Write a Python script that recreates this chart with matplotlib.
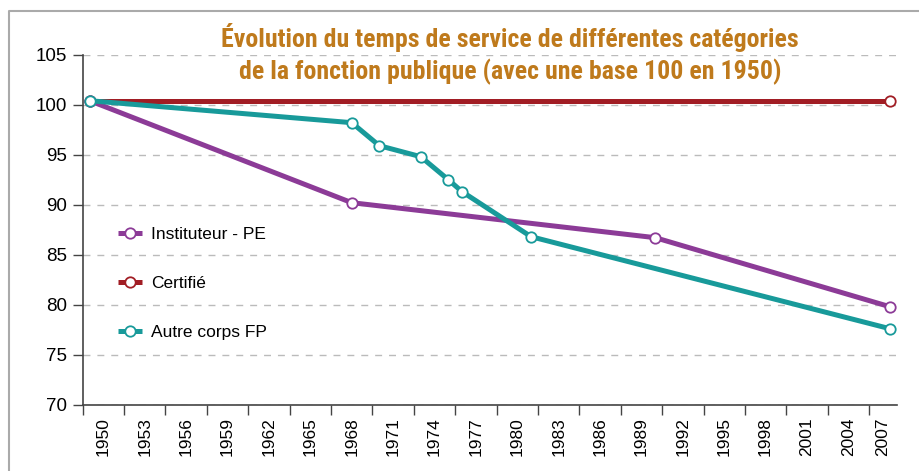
import numpy as np
import matplotlib
matplotlib.use('Agg')
import matplotlib.pyplot as plt
from matplotlib.lines import Line2D
from matplotlib import font_manager

plt.rcParams['font.family'] = ['Liberation Sans', 'DejaVu Sans']

# donnees (annees = position de categorie)
years_inst = [1950, 1969, 1991, 2008]
vals_inst = [100.4, 90.2, 86.7, 79.8]

years_cert = [1950, 2008]
vals_cert = [100.4, 100.4]

years_autre = [1950, 1969, 1971, 1974, 1976, 1977, 1982, 2008]
vals_autre = [100.4, 98.2, 95.9, 94.8, 92.5, 91.3, 86.8, 77.6]

tick_years = list(range(1950, 2008, 3))
tick_labels = [str(y) for y in tick_years]
y_ticks = [70, 75, 80, 85, 90, 95, 100, 105]

title = "Évolution du temps de service de différentes catégories\nde la fonction publique (avec une base 100 en 1950)"

c_inst = '#8C3B97'
c_cert = '#A11D24'
c_autre = '#189A9A'

# police etroite pour le titre si disponible
installed = {f.name for f in font_manager.fontManager.ttflist}
title_fam = 'Liberation Sans'
title_size = 13.2
title_ls = 1.75
for cand, size, ls in [('Liberation Sans Narrow', 18.6, 1.28), ('Roboto Condensed', 18.6, 1.28),
                       ('Open Sans Condensed', 18.6, 1.28), ('DejaVu Sans Condensed', 14.5, 1.5)]:
    if cand in installed:
        title_fam, title_size, title_ls = cand, size, ls
        break

fig = plt.figure(figsize=(9.19, 4.71), dpi=100)
ax = fig.add_axes([0.090, 0.1408, 0.8857, 0.7431])

def draw(x, y, col, lab):
    ax.plot(x, y, color=col, lw=3.6, marker='o', ms=7.5, mfc='white',
            mec=col, mew=1.3, label=lab, solid_capstyle='butt', zorder=3)

draw(years_cert, vals_cert, c_cert, 'Certifié')
draw(years_inst, vals_inst, c_inst, 'Instituteur - PE')
draw(years_autre, vals_autre, c_autre, 'Autre corps FP')

ax.set_xlim(1949.5, 2008.5)
ax.set_ylim(70, 105)

# ticks entre categories, libelles centres dans chaque groupe de 3
ax.set_xticks([y - 0.5 for y in tick_years])
ax.set_xticklabels([])
centers = [y + 1 for y in tick_years]
centers[-1] = 2007.5
ax.set_xticks(centers, minor=True)
ax.set_xticklabels(tick_labels, minor=True, rotation=90, fontsize=12.5)
ax.tick_params(axis='x', which='major', length=7, width=1, color='#444444')
ax.tick_params(axis='x', which='minor', length=0, pad=9)

ax.set_yticks(y_ticks)
ax.set_yticklabels([str(v) for v in y_ticks], fontsize=13.5)
ax.tick_params(axis='y', length=7, width=1, color='#444444', pad=4)

ax.yaxis.grid(True, linestyle=(0, (5, 5)), color='#BBBBBB', lw=1)
ax.set_axisbelow(True)
for s in ['top', 'right']:
    ax.spines[s].set_visible(False)
for s in ['left', 'bottom']:
    ax.spines[s].set_color('#444444')
    ax.spines[s].set_linewidth(1.2)

handles, labels = ax.get_legend_handles_labels()
order = [1, 0, 2]
leg = ax.legend([handles[i] for i in order], [labels[i] for i in order],
                loc='upper left', bbox_to_anchor=(118 / 919, 1 - 227 / 471),
                bbox_transform=fig.transFigure, frameon=False, fontsize=12.5,
                handlelength=1.4, handletextpad=0.5, labelspacing=1.95,
                borderpad=0, borderaxespad=0)

fig.text(510 / 919, 1 - 54 / 471, title, ha='center', va='center',
         fontsize=title_size, fontweight='bold', color='#BF7A1C',
         family=[title_fam, 'DejaVu Sans'], linespacing=title_ls)

# cadre gris en haut et a gauche
fig.add_artist(Line2D([8.5 / 919, 8.5 / 919, 1], [0, 1 - 10.5 / 471, 1 - 10.5 / 471],
                      color='#AAAAAA', lw=1.5, transform=fig.transFigure))

fig.savefig('out.png', dpi=100)
